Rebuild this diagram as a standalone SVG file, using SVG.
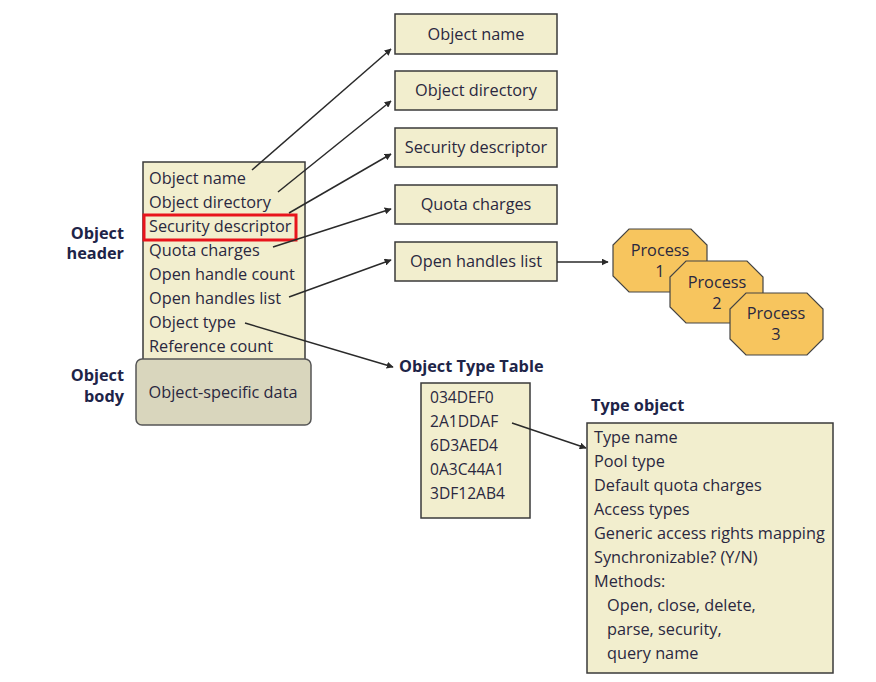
<svg xmlns="http://www.w3.org/2000/svg" width="876" height="682" viewBox="0 0 876 682">
<style>
.box{fill:#F2EECE;stroke:#3a3a3a;stroke-width:1.5}
.body{fill:#D9D6BD;stroke:#555;stroke-width:1.5}
.proc{fill:#F7C55E;stroke:#444;stroke-width:1.2}
.t{font-family:"Open Sans","Noto Sans","DejaVu Sans",sans-serif;font-size:16.3px;fill:#2a2840}
.n{font-size:15.6px}
.b{font-family:"Open Sans","Noto Sans","DejaVu Sans",sans-serif;font-size:16.3px;font-weight:bold;fill:#1e2448}
.c{text-anchor:middle}
.e{text-anchor:end}
.conn line{stroke:#2a2a2a;stroke-width:1.5;marker-end:url(#ah)}
</style>
<defs>
<marker id="ah" viewBox="0 0 10 10" refX="9" refY="5" markerWidth="7" markerHeight="7" markerUnits="userSpaceOnUse" orient="auto">
<path d="M0,0 L10,5 L0,10 z" fill="#2a2a2a"/>
</marker>
</defs>
<rect width="876" height="682" fill="#fff"/>
<g id="object-header">
<rect class="box" x="143" y="162" width="162" height="198"/>
<text class="t" x="149" y="184">Object name</text>
<text class="t" x="149" y="208">Object directory</text>
<text class="t" x="149" y="232">Security descriptor</text>
<text class="t" x="149" y="256">Quota charges</text>
<text class="t" x="149" y="280">Open handle count</text>
<text class="t" x="149" y="304">Open handles list</text>
<text class="t" x="149" y="328">Object type</text>
<text class="t" x="149" y="352">Reference count</text>
<rect x="144" y="215" width="152" height="25" fill="none" stroke="#E8141C" stroke-width="3"/>
<text class="b e" x="124" y="239">Object</text>
<text class="b e" x="124" y="259">header</text>
</g>
<g id="object-body">
<rect class="body" x="136" y="359" width="175" height="66" rx="6"/>
<text class="t" x="223" y="398" text-anchor="middle">Object-specific data</text>
<text class="b e" x="124" y="381">Object</text>
<text class="b e" x="124" y="402">body</text>
</g>
<g id="box-object-name"><rect class="box" x="395" y="14" width="162" height="40"/><text class="t c" x="476" y="40">Object name</text></g>
<g id="box-object-directory"><rect class="box" x="395" y="71" width="162" height="39"/><text class="t c" x="476" y="96">Object directory</text></g>
<g id="box-security-descriptor"><rect class="box" x="395" y="128" width="162" height="39"/><text class="t c" x="476" y="153">Security descriptor</text></g>
<g id="box-quota-charges"><rect class="box" x="395" y="185" width="162" height="39"/><text class="t c" x="476" y="210">Quota charges</text></g>
<g id="box-open-handles-list"><rect class="box" x="395" y="242" width="162" height="39"/><text class="t c" x="476" y="267">Open handles list</text></g>
<g id="process-1">
<polygon class="proc" points="629,229 691,229 707,245 707,276 691,292 629,292 613,276 613,245"/>
<text class="t c" x="660" y="256">Process</text><text class="t c" x="660" y="277">1</text>
</g>
<g id="process-2">
<polygon class="proc" points="686,261 747,261 763,277 763,307 747,323 686,323 670,307 670,277"/>
<text class="t c" x="717" y="288">Process</text><text class="t c" x="717" y="309">2</text>
</g>
<g id="process-3">
<polygon class="proc" points="746,293 807,293 823,309 823,339 807,355 746,355 730,339 730,309"/>
<text class="t c" x="776" y="319">Process</text><text class="t c" x="776" y="340">3</text>
</g>
<g id="object-type-table">
<text class="b" x="399" y="372">Object Type Table</text>
<rect class="box" x="421" y="383" width="109" height="135"/>
<text class="t n" x="430" y="403">034DEF0</text>
<text class="t n" x="430" y="427">2A1DDAF</text>
<text class="t n" x="430" y="451">6D3AED4</text>
<text class="t n" x="430" y="475">0A3C44A1</text>
<text class="t n" x="430" y="499">3DF12AB4</text>
</g>
<g id="type-object">
<text class="b" x="591" y="411">Type object</text>
<rect class="box" x="587" y="423" width="246" height="250"/>
<text class="t" x="594" y="443">Type name</text>
<text class="t" x="594" y="467">Pool type</text>
<text class="t" x="594" y="491">Default quota charges</text>
<text class="t" x="594" y="515">Access types</text>
<text class="t" x="594" y="539">Generic access rights mapping</text>
<text class="t" x="594" y="563">Synchronizable? (Y/N)</text>
<text class="t" x="594" y="587">Methods:</text>
<text class="t" x="607" y="611">Open, close, delete,</text>
<text class="t" x="607" y="635">parse, security,</text>
<text class="t" x="607" y="659">query name</text>
</g>
<g id="connectors" class="conn">
<line x1="252" y1="170" x2="391" y2="49"/>
<line x1="278" y1="192" x2="391" y2="101"/>
<line x1="289" y1="213" x2="391" y2="154"/>
<line x1="273" y1="247" x2="391" y2="209"/>
<line x1="289" y1="297" x2="391" y2="260"/>
<line x1="245" y1="323" x2="393" y2="367"/>
<line x1="557" y1="262" x2="608" y2="262"/>
<line x1="512" y1="423" x2="586" y2="448"/>
</g>
</svg>
